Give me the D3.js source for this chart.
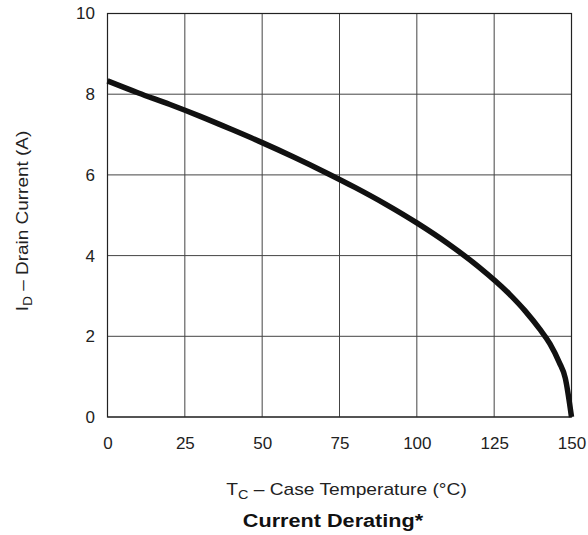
<!DOCTYPE html>
<html><head><meta charset="utf-8">
<script src="https://cdn.jsdelivr.net/npm/d3@7"></script>
<style>body{margin:0;background:#fff}svg{display:block}text{font-family:"Liberation Sans",Arial,sans-serif}</style>
</head><body><svg id="c" width="588" height="535"></svg>
<script>
const temps = [0,10,20,30,40,50,60,70,80,90,100,110,120,130,135,140,143,146,148,150];
const currents = [8.33,8.03,7.75,7.45,7.13,6.80,6.45,6.08,5.69,5.27,4.81,4.30,3.72,3.04,2.63,2.15,1.82,1.36,0.96,0];
const xTicks = [0,25,50,75,100,125,150];
const yTicks = [0,2,4,6,8,10];

const svg = d3.select("#c");
const L=107.5,R=571.5,T=13.5,B=417;
const x = d3.scaleLinear().domain([0,150]).range([L,R]);
const y = d3.scaleLinear().domain([0,10]).range([B,T]);

const g = svg.append("g");
g.selectAll(".vg").data(xTicks).join("line")
 .attr("x1",d=>x(d)).attr("x2",d=>x(d)).attr("y1",T).attr("y2",B)
 .attr("stroke","#444").attr("stroke-width",1);
g.selectAll(".hg").data(yTicks).join("line")
 .attr("y1",d=>y(d)).attr("y2",d=>y(d)).attr("x1",L).attr("x2",R)
 .attr("stroke","#444").attr("stroke-width",1);
g.append("rect").attr("x",L).attr("y",T).attr("width",R-L).attr("height",B-T)
 .attr("fill","none").attr("stroke","#222").attr("stroke-width",1.2);

const xa = svg.append("g").attr("transform",`translate(0,${B})`)
 .call(d3.axisBottom(x).tickValues(xTicks).tickSize(0).tickPadding(20));
xa.select(".domain").remove();
xa.attr("font-size",17).attr("font-family","Liberation Sans, Arial, sans-serif");
xa.selectAll("text").attr("fill","#222");
const ya = svg.append("g").attr("transform",`translate(${L},0)`)
 .call(d3.axisLeft(y).tickValues(yTicks).tickSize(0).tickPadding(12.5));
ya.select(".domain").remove();
ya.attr("font-size",17).attr("font-family","Liberation Sans, Arial, sans-serif");
ya.selectAll("text").attr("fill","#222");

const line = d3.line().x((d,i)=>x(temps[i])).y(d=>y(d)).curve(d3.curveMonotoneX);
svg.append("path").attr("d",line(currents)).attr("fill","none")
 .attr("stroke","#111").attr("stroke-width",5.5).attr("stroke-linejoin","round");

const xl = svg.append("text").attr("transform","translate(346.5,495) scale(1.2,1)")
 .attr("text-anchor","middle").attr("font-size",16).attr("fill","#222");
xl.append("tspan").text("T");
xl.append("tspan").attr("font-size",12).attr("dy",4).text("C");
xl.append("tspan").attr("dy",-4).text(" – Case Temperature (°C)");

svg.append("text").attr("transform","translate(333,527) scale(1.17,1)").attr("text-anchor","middle")
 .attr("font-size",18.5).attr("font-weight","bold").attr("fill","#111").text("Current Derating*");

const yl = svg.append("text").attr("transform","translate(28,221) rotate(-90) scale(1.15,1)")
 .attr("text-anchor","middle").attr("font-size",16.5).attr("fill","#222");
yl.append("tspan").text("I");
yl.append("tspan").attr("font-size",12).attr("dy",4).text("D");
yl.append("tspan").attr("dy",-4).text(" – Drain Current (A)");
</script></body></html>
